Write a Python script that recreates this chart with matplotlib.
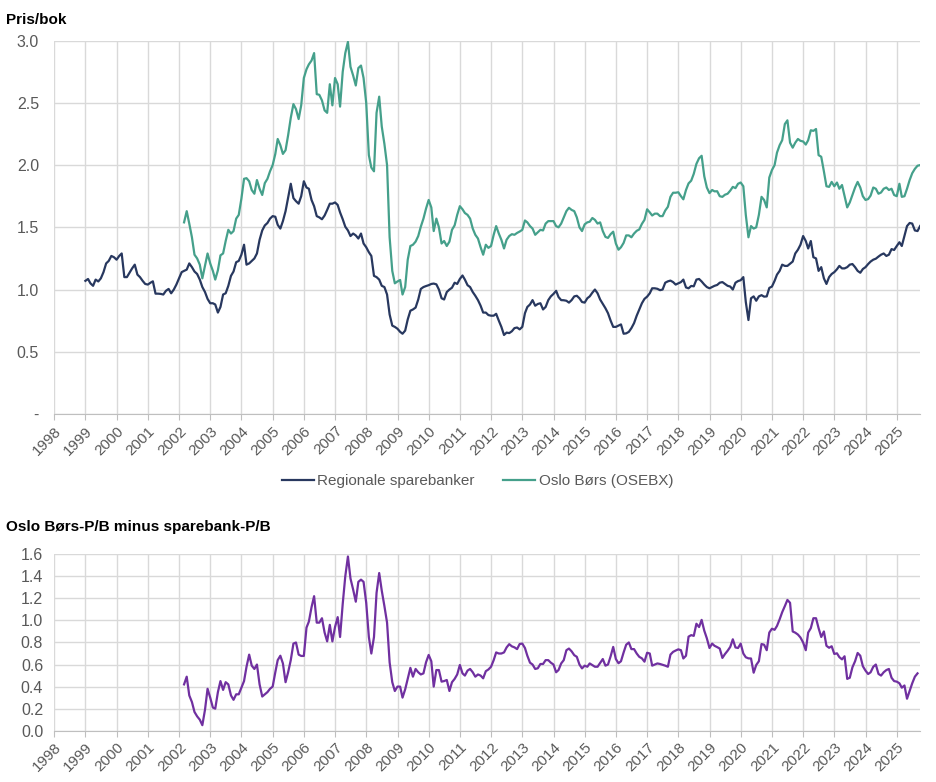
import matplotlib
matplotlib.use('Agg')
import matplotlib.pyplot as plt
import matplotlib.dates as mdates
import matplotlib.ticker as mticker
import pandas as pd

plt.rcParams['font.family'] = ['Liberation Sans', 'DejaVu Sans']

# month-end P/B values, regional savings banks (from Dec 1998)
sparebanker = [
    1.07,
    1.085, 1.05, 1.03, 1.08, 1.065, 1.09, 1.14, 1.21, 1.23, 1.27, 1.26, 1.24,      # 1999
    1.27, 1.29, 1.10, 1.10, 1.135, 1.17, 1.20, 1.12, 1.10, 1.07, 1.045, 1.04,      # 2000
    1.055, 1.066, 0.967, 0.967, 0.965, 0.96, 0.99, 1.005, 0.97, 1.0, 1.04, 1.09,   # 2001
    1.14, 1.15, 1.16, 1.21, 1.18, 1.145, 1.125, 1.08, 1.02, 0.98, 0.925, 0.89,     # 2002
    0.89, 0.88, 0.815, 0.86, 0.96, 0.97, 1.03, 1.11, 1.145, 1.22, 1.23, 1.28,      # 2003
    1.36, 1.20, 1.21, 1.23, 1.25, 1.29, 1.40, 1.475, 1.515, 1.535, 1.57, 1.59,     # 2004
    1.585, 1.52, 1.49, 1.55, 1.63, 1.74, 1.85, 1.735, 1.71, 1.69, 1.75, 1.87,      # 2005
    1.82, 1.81, 1.72, 1.67, 1.59, 1.58, 1.565, 1.595, 1.64, 1.69, 1.69, 1.70,      # 2006
    1.68, 1.62, 1.565, 1.505, 1.475, 1.43, 1.45, 1.435, 1.41, 1.45, 1.37, 1.34,    # 2007
    1.30, 1.27, 1.11, 1.10, 1.08, 1.03, 1.02, 0.96, 0.80, 0.71, 0.70, 0.685,       # 2008
    0.66, 0.645, 0.67, 0.76, 0.83, 0.84, 0.855, 0.92, 1.005, 1.02, 1.028, 1.035,   # 2009
    1.045, 1.048, 1.042, 1.0, 0.93, 0.92, 0.98, 1.0, 1.015, 1.055, 1.045, 1.085,   # 2010
    1.113, 1.08, 1.035, 1.02, 0.98, 0.95, 0.915, 0.87, 0.815, 0.815, 0.795, 0.79,  # 2011
    0.79, 0.805, 0.75, 0.70, 0.635, 0.654, 0.65, 0.665, 0.69, 0.695, 0.68, 0.70,   # 2012
    0.81, 0.86, 0.88, 0.915, 0.87, 0.884, 0.89, 0.84, 0.86, 0.915, 0.945, 0.965,   # 2013
    0.99, 0.94, 0.915, 0.914, 0.91, 0.895, 0.915, 0.945, 0.95, 0.93, 0.90, 0.895,  # 2014
    0.93, 0.945, 0.975, 1.0, 0.97, 0.92, 0.885, 0.85, 0.81, 0.75, 0.70, 0.70,      # 2015
    0.71, 0.72, 0.645, 0.648, 0.66, 0.69, 0.73, 0.79, 0.84, 0.89, 0.925, 0.943,    # 2016
    0.97, 1.01, 1.01, 1.006, 0.995, 1.0, 1.055, 1.066, 1.072, 1.06, 1.04, 1.05,    # 2017
    1.06, 1.08, 1.017, 1.01, 1.029, 1.026, 1.08, 1.085, 1.065, 1.04, 1.02, 1.01,   # 2018
    1.02, 1.03, 1.037, 1.055, 1.06, 1.045, 1.03, 1.024, 1.0, 1.055, 1.068, 1.075,  # 2019
    1.10, 0.90, 0.755, 0.93, 0.945, 0.91, 0.945, 0.955, 0.943, 0.945, 1.013, 1.024,  # 2020
    1.07, 1.12, 1.15, 1.20, 1.19, 1.19, 1.208, 1.225, 1.29, 1.32, 1.36, 1.43,      # 2021
    1.39, 1.33, 1.39, 1.26, 1.25, 1.15, 1.18, 1.09, 1.045, 1.10, 1.125, 1.14,      # 2022
    1.163, 1.19, 1.17, 1.17, 1.18, 1.20, 1.205, 1.18, 1.15, 1.135, 1.165, 1.18,    # 2023
    1.205, 1.225, 1.24, 1.248, 1.265, 1.28, 1.29, 1.27, 1.28, 1.325, 1.318, 1.35,  # 2024
    1.38, 1.35, 1.43, 1.51, 1.535, 1.53, 1.475, 1.47, 1.51,                        # 2025
]

# Oslo Børs (OSEBX) P/B, from Feb 2002
osebx = [
    1.54, 1.63, 1.53, 1.42, 1.28, 1.25, 1.20, 1.09, 1.19, 1.29, 1.21,              # 2002
    1.15, 1.08, 1.155, 1.275, 1.29, 1.39, 1.48, 1.45, 1.47, 1.57, 1.60, 1.73,      # 2003
    1.89, 1.895, 1.87, 1.80, 1.77, 1.88, 1.81, 1.76, 1.855, 1.89, 1.95, 2.0,       # 2004
    2.09, 2.21, 2.16, 2.09, 2.12, 2.24, 2.38, 2.49, 2.45, 2.37, 2.48, 2.70,        # 2005
    2.77, 2.81, 2.84, 2.90, 2.57, 2.565, 2.52, 2.44, 2.42, 2.65, 2.48, 2.70,       # 2006
    2.65, 2.47, 2.75, 2.90, 2.99, 2.79, 2.72, 2.64, 2.78, 2.80, 2.70, 2.50,        # 2007
    2.08, 1.98, 1.95, 2.42, 2.55, 2.31, 2.17, 2.0, 1.42, 1.15, 1.05, 1.065,        # 2008
    1.077, 0.96, 1.02, 1.24, 1.35, 1.36, 1.385, 1.43, 1.505, 1.57, 1.65, 1.72,     # 2009
    1.66, 1.47, 1.57, 1.50, 1.37, 1.39, 1.35, 1.385, 1.48, 1.516, 1.60, 1.67,      # 2010
    1.645, 1.615, 1.60, 1.57, 1.49, 1.44, 1.41, 1.34, 1.28, 1.36, 1.335, 1.35,     # 2011
    1.44, 1.51, 1.45, 1.40, 1.33, 1.40, 1.43, 1.445, 1.44, 1.455, 1.466, 1.48,     # 2012
    1.555, 1.54, 1.51, 1.49, 1.44, 1.46, 1.48, 1.475, 1.53, 1.55, 1.55, 1.55,      # 2013
    1.51, 1.50, 1.53, 1.58, 1.63, 1.657, 1.64, 1.63, 1.58, 1.50, 1.47, 1.524,      # 2014
    1.54, 1.545, 1.575, 1.56, 1.53, 1.54, 1.47, 1.423, 1.415, 1.445, 1.465, 1.37,  # 2015
    1.32, 1.34, 1.375, 1.435, 1.435, 1.42, 1.45, 1.472, 1.483, 1.528, 1.56, 1.645, # 2016
    1.62, 1.595, 1.61, 1.61, 1.59, 1.59, 1.635, 1.665, 1.745, 1.778, 1.778, 1.782, # 2017
    1.75, 1.725, 1.80, 1.853, 1.875, 1.93, 2.01, 2.055, 2.075, 1.91, 1.82, 1.775,  # 2018
    1.80, 1.789, 1.79, 1.75, 1.745, 1.762, 1.77, 1.795, 1.825, 1.815, 1.85, 1.86,  # 2019
    1.83, 1.60, 1.42, 1.51, 1.49, 1.50, 1.60, 1.745, 1.72, 1.66, 1.90, 1.96,       # 2020
    2.0, 2.10, 2.16, 2.20, 2.33, 2.36, 2.18, 2.14, 2.18, 2.21, 2.195, 2.19,        # 2021
    2.165, 2.20, 2.28, 2.275, 2.29, 2.08, 2.067, 1.95, 1.83, 1.825, 1.865, 1.83,   # 2022
    1.86, 1.81, 1.84, 1.75, 1.66, 1.70, 1.76, 1.82, 1.865, 1.82, 1.75, 1.72,       # 2023
    1.727, 1.755, 1.82, 1.81, 1.77, 1.78, 1.81, 1.82, 1.80, 1.81, 1.76, 1.75,      # 2024
    1.85, 1.745, 1.75, 1.81, 1.88, 1.935, 1.97, 1.995, 2.0,                        # 2025
]

# Oslo Børs P/B minus sparebank P/B, from Feb 2002
differanse = [
    0.42, 0.49, 0.32, 0.26, 0.17, 0.13, 0.10, 0.05, 0.19, 0.38, 0.30,              # 2002
    0.21, 0.20, 0.35, 0.45, 0.37, 0.44, 0.42, 0.32, 0.28, 0.33, 0.33, 0.39,        # 2003
    0.45, 0.58, 0.69, 0.59, 0.56, 0.60, 0.42, 0.31, 0.33, 0.35, 0.38, 0.40,        # 2004
    0.53, 0.64, 0.68, 0.61, 0.44, 0.53, 0.64, 0.79, 0.80, 0.69, 0.678, 0.678,      # 2005
    0.935, 0.99, 1.12, 1.22, 0.98, 0.98, 1.02, 0.89, 0.81, 0.96, 0.81, 0.94,       # 2006
    1.03, 0.85, 1.15, 1.40, 1.58, 1.38, 1.28, 1.17, 1.35, 1.37, 1.35, 1.16,        # 2007
    0.85, 0.70, 0.85, 1.25, 1.43, 1.27, 1.13, 0.98, 0.62, 0.44, 0.36, 0.40,        # 2008
    0.40, 0.30, 0.375, 0.47, 0.57, 0.49, 0.56, 0.53, 0.51, 0.52, 0.62, 0.687,      # 2009
    0.63, 0.40, 0.55, 0.55, 0.445, 0.45, 0.46, 0.36, 0.44, 0.47, 0.51, 0.596,      # 2010
    0.52, 0.50, 0.545, 0.56, 0.53, 0.49, 0.51, 0.50, 0.475, 0.54, 0.555, 0.58,     # 2011
    0.64, 0.71, 0.70, 0.70, 0.71, 0.755, 0.785, 0.765, 0.756, 0.74, 0.786, 0.79,   # 2012
    0.75, 0.68, 0.617, 0.60, 0.56, 0.566, 0.605, 0.605, 0.64, 0.64, 0.617, 0.60,   # 2013
    0.53, 0.55, 0.61, 0.64, 0.73, 0.745, 0.72, 0.685, 0.67, 0.60, 0.565, 0.59,     # 2014
    0.58, 0.61, 0.595, 0.58, 0.58, 0.615, 0.65, 0.59, 0.60, 0.675, 0.76, 0.65,     # 2015
    0.612, 0.63, 0.71, 0.78, 0.80, 0.74, 0.74, 0.70, 0.67, 0.656, 0.626, 0.707,    # 2016
    0.70, 0.59, 0.60, 0.61, 0.605, 0.598, 0.59, 0.58, 0.69, 0.715, 0.727, 0.738,   # 2017
    0.73, 0.655, 0.68, 0.853, 0.867, 0.86, 0.97, 0.94, 1.005, 0.907, 0.838, 0.75,  # 2018
    0.79, 0.77, 0.758, 0.745, 0.66, 0.695, 0.725, 0.76, 0.829, 0.755, 0.75, 0.79,  # 2019
    0.70, 0.666, 0.656, 0.655, 0.526, 0.596, 0.63, 0.786, 0.78, 0.73, 0.89, 0.925, # 2020
    0.915, 0.95, 1.01, 1.075, 1.13, 1.186, 1.16, 0.90, 0.889, 0.872, 0.845, 0.80,  # 2021
    0.73, 0.89, 0.93, 1.02, 1.02, 0.93, 0.85, 0.90, 0.77, 0.752, 0.766, 0.696,     # 2022
    0.702, 0.667, 0.647, 0.675, 0.47, 0.48, 0.575, 0.63, 0.705, 0.68, 0.585, 0.545,  # 2023
    0.514, 0.53, 0.58, 0.60, 0.515, 0.50, 0.53, 0.55, 0.56, 0.48, 0.45, 0.445,     # 2024
    0.43, 0.39, 0.41, 0.29, 0.36, 0.43, 0.49, 0.52,                                # 2025
]

spare_dates = pd.date_range('1998-12-31', periods=len(sparebanker), freq='ME')
osebx_dates = pd.date_range('2002-02-28', periods=len(osebx), freq='ME')
diff_dates = pd.date_range('2002-02-28', periods=len(differanse), freq='ME')

navy = '#28385f'
green = '#45a08b'
purple = '#7030a0'
grid_c = '#d9d9d9'
text_c = '#595959'

fig = plt.figure(figsize=(9.36, 7.82), dpi=100)
ax1 = fig.add_axes([0.058, 0.4706, 0.925, 0.4774])
ax2 = fig.add_axes([0.058, 0.0656, 0.925, 0.2256])

x0 = pd.Timestamp('1998-01-01')
x1 = spare_dates[-1]


def style(ax, ypad):
    ax.set_xlim(x0, x1)
    ax.xaxis.set_major_locator(mdates.YearLocator())
    ax.xaxis.set_major_formatter(mdates.DateFormatter('%Y'))
    ax.grid(True, color=grid_c, linewidth=1)
    ax.set_axisbelow(True)
    for s in ['top', 'right', 'left']:
        ax.spines[s].set_visible(False)
    ax.spines['bottom'].set_color('#bfbfbf')
    ax.tick_params(axis='x', colors='#bfbfbf', length=4, labelcolor=text_c,
                   labelsize=11, pad=3)
    ax.tick_params(axis='y', length=0, labelcolor=text_c, labelsize=11.5, pad=ypad)
    for lab in ax.get_xticklabels():
        lab.set_rotation(45)
        lab.set_ha('right')
        lab.set_va('top')
        lab.set_rotation_mode('anchor')


# top chart
ax1.plot(spare_dates, sparebanker, color=navy, lw=1.6, label='Regionale sparebanker')
ax1.plot(osebx_dates, osebx, color=green, lw=1.6, label='Oslo Børs (OSEBX)')
ax1.set_ylim(0, 3.0)
ax1.set_yticks([0, 0.5, 1.0, 1.5, 2.0, 2.5, 3.0])
ax1.yaxis.set_major_formatter(mticker.FuncFormatter(lambda v, p: '-' if v == 0 else f'{v:.1f}'))
style(ax1, 11)

fig.legend(loc='center', bbox_to_anchor=(0.51, 0.385), ncol=2, frameon=False,
           fontsize=11, labelcolor=text_c, handlelength=2.1, columnspacing=1.9,
           handletextpad=0.2)

# bottom chart
ax2.plot(diff_dates, differanse, color=purple, lw=1.6)
ax2.set_ylim(0, 1.6)
ax2.set_yticks([0, 0.2, 0.4, 0.6, 0.8, 1.0, 1.2, 1.4, 1.6])
ax2.yaxis.set_major_formatter(mticker.FormatStrFormatter('%.1f'))
style(ax2, 8)

fig.text(0.006, 0.984, 'Pris/bok', fontsize=11, fontweight='bold', va='top', ha='left')
fig.text(0.006, 0.326, 'Oslo Børs-P/B minus sparebank-P/B', fontsize=11,
         fontweight='bold', va='center', ha='left')

fig.savefig('out.png', dpi=100)
